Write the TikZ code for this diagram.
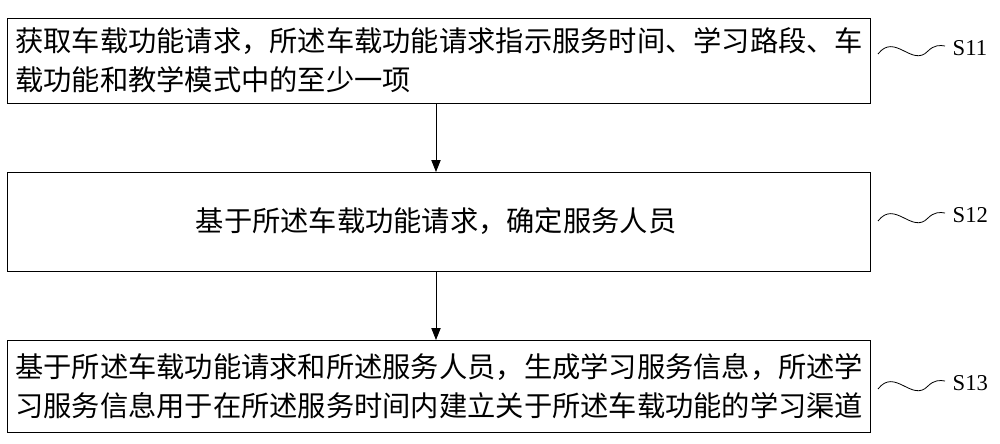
\documentclass[tikz,border=0pt]{standalone}
\usepackage{fontspec}
\newfontfamily\cjk{Noto Sans CJK SC}
\setmainfont{Liberation Serif}
\usetikzlibrary{arrows.meta}
\begin{document}
\begin{tikzpicture}[x=0.75pt,y=-0.75pt,
  box/.style={draw,line width=0.6pt,minimum width=647pt,anchor=north west,inner sep=0pt},
  txt/.style={font=\cjk\fontsize{21.2}{29}\selectfont,align=left,inner sep=0pt},
  arr/.style={-{Triangle[length=9pt,width=7pt]},line width=0.6pt},
  lab/.style={font=\fontsize{17}{20}\selectfont,anchor=west}]
\useasboundingbox (0,0) rectangle (1000,443);
\node[box,minimum height=64pt] (b1) at (7,18) {};
\node[box,minimum height=74pt] (b2) at (7,172) {};
\node[box,minimum height=69pt] (b3) at (7,340) {};
\node[txt,anchor=west] (t1) at (15,60) {获取车载功能请求，所述车载功能请求指示服务时间、学习路段、车\\载功能和教学模式中的至少一项};
\node[txt] (t2) at (436,221) {基于所述车载功能请求，确定服务人员};
\node[txt,anchor=west] (t3) at (15,386) {基于所述车载功能请求和所述服务人员，生成学习服务信息，所述学\\习服务信息用于在所述服务时间内建立关于所述车载功能的学习渠道};
\draw[arr] (b1.south -| 436,0) -- (b2.north -| 436,0);
\draw[arr] (b2.south -| 436,0) -- (b3.north -| 436,0);
\foreach \n/\y/\t in {1/48/S11,2/215/S12,3/383/S13}{
  \coordinate (s\n) at (878,\y+6);
  \coordinate (e\n) at (945,\y-2);
  \draw[line width=0.6pt] (s\n) .. controls (895,\y-16) and (912,\y+20) .. (928,\y+3) .. controls (934,\y-3) and (940,\y-3) .. (e\n);
  \node[lab] (l\n) at (948,\y) {\t};
}
\end{tikzpicture}
\end{document}
